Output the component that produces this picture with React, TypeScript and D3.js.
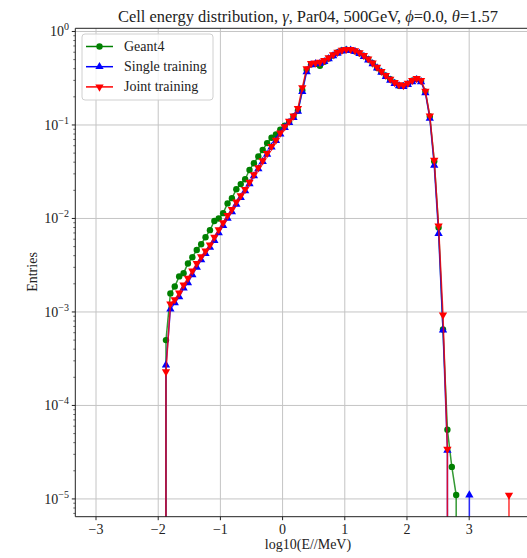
import React from "react";
import * as d3 from "d3";

const BIN_CENTERS = [
  -1.946, -1.875, -1.804, -1.734, -1.663, -1.592, -1.522, -1.451, -1.38, -1.309, -1.239,
  -1.168, -1.097, -1.027, -0.956, -0.885, -0.815, -0.744, -0.673, -0.602, -0.532,
  -0.461, -0.39, -0.32, -0.249, -0.178, -0.107, -0.037, 0.034, 0.105, 0.175,
  0.246, 0.317, 0.387, 0.458, 0.529, 0.6, 0.67, 0.741, 0.812, 0.882,
  0.953, 1.024, 1.094, 1.165, 1.236, 1.307, 1.377, 1.448, 1.519, 1.589,
  1.66, 1.731, 1.801, 1.872, 1.943, 2.014, 2.084, 2.155, 2.226, 2.296,
  2.367, 2.438, 2.508, 2.579, 2.65, 2.721, 2.791, 2.862, 2.933, 3.003,
  3.074, 3.145, 3.215, 3.286, 3.357, 3.428, 3.498, 3.569, 3.64, 3.711,
];

const GEANT4 = [
  0,
  5.0e-4, 1.58e-3, 1.87e-3, 2.4e-3, 2.6e-3, 3.3e-3, 3.85e-3, 4.6e-3, 5.3e-3, 6.3e-3,
  7.5e-3, 9.4e-3, 1.0e-2, 1.14e-2, 1.45e-2, 1.65e-2, 2.05e-2, 2.33e-2, 2.63e-2, 3.3e-2,
  3.9e-2, 4.6e-2, 5.4e-2, 6.4e-2, 7.3e-2, 7.9e-2, 8.9e-2, 9.8e-2, 0.108, 0.123,
  0.142, 0.235, 0.39, 0.445, 0.45, 0.43, 0.475, 0.515, 0.555, 0.595,
  0.625, 0.64, 0.635, 0.615, 0.585, 0.547, 0.505, 0.457, 0.41, 0.372,
  0.336, 0.308, 0.283, 0.263, 0.263, 0.275, 0.298, 0.31, 0.295, 0.227,
  0.123, 0.041, 8.0e-3, 6.5e-4, 5.5e-5, 2.2e-5, 1.1e-5,
  0, 0, 0, 0, 0, 0, 0, 0, 0, 0, 0, 0, 0,
];

const SINGLE = [
  0,
  2.7e-4, 1.07e-3, 1.25e-3, 1.45e-3, 1.8e-3, 2.05e-3, 2.5e-3, 3.0e-3, 3.6e-3, 4.2e-3,
  4.9e-3, 5.8e-3, 7.0e-3, 8.4e-3, 1.0e-2, 1.18e-2, 1.42e-2, 1.67e-2, 1.97e-2, 2.35e-2,
  2.85e-2, 3.4e-2, 4.05e-2, 4.85e-2, 5.8e-2, 6.8e-2, 8.0e-2, 9.4e-2, 0.106, 0.12,
  0.14, 0.227, 0.37, 0.44, 0.45, 0.455, 0.475, 0.51, 0.55, 0.585,
  0.615, 0.63, 0.63, 0.61, 0.58, 0.54, 0.495, 0.45, 0.405, 0.365,
  0.33, 0.3, 0.277, 0.262, 0.258, 0.27, 0.29, 0.305, 0.29, 0.22,
  0.118, 0.037, 6.9e-3, 6.4e-4, 3.3e-5,
  0, 0, 0, 0, 1.1e-5, 0, 0, 0, 0, 0, 0, 0, 0, 0, 0,
];

const JOINT = [
  0,
  2.3e-4, 1.22e-3, 1.35e-3, 1.6e-3, 1.95e-3, 2.3e-3, 2.75e-3, 3.3e-3, 3.9e-3, 4.5e-3,
  5.2e-3, 6.3e-3, 7.6e-3, 9.0e-3, 1.08e-2, 1.25e-2, 1.5e-2, 1.75e-2, 2.05e-2, 2.45e-2,
  2.95e-2, 3.5e-2, 4.15e-2, 4.95e-2, 5.9e-2, 6.9e-2, 8.2e-2, 9.6e-2, 0.11, 0.125,
  0.15, 0.25, 0.4, 0.455, 0.46, 0.47, 0.49, 0.525, 0.565, 0.6,
  0.63, 0.645, 0.645, 0.625, 0.595, 0.555, 0.51, 0.46, 0.415, 0.375,
  0.34, 0.31, 0.285, 0.27, 0.265, 0.28, 0.3, 0.315, 0.3, 0.23,
  0.125, 0.042, 8.3e-3, 9.3e-4, 3.4e-5,
  0, 0, 0, 0, 0, 0, 0, 0, 0, 0, 0, 0, 0, 1.1e-5, 0,
];

const SERIES_NAMES = ["Geant4", "Single training", "Joint training"];
const X_TICKS = [-3, -2, -1, 0, 1, 2, 3];
const Y_TICK_EXPONENTS = [0, -1, -2, -3, -4, -5];

const W = 527;
const H = 558;
const LEFT = 75.3;
const RIGHT = 540.7;
const TOP = 28.3;
const BOTTOM = 516.7;
const FONT = "'Liberation Serif', 'DejaVu Serif', serif";

const x = d3.scaleLinear().domain([-3.333, 4.15]).range([LEFT, RIGHT]);
const y = d3.scaleLog().domain([Math.pow(10, -5.19), Math.pow(10, 0.034)]).range([BOTTOM, TOP]);

const seriesDefs = [
  { name: SERIES_NAMES[0], values: GEANT4, color: "#008000", marker: "circle" },
  { name: SERIES_NAMES[1], values: SINGLE, color: "#0000ff", marker: "up" },
  { name: SERIES_NAMES[2], values: JOINT, color: "#ff0000", marker: "down" },
];

const triUp = d3.symbol(d3.symbolTriangle, 30)() as string;

function Marker({ kind, cx, cy, color }: { kind: string; cx: number; cy: number; color: string }) {
  if (kind === "circle") return <circle cx={cx} cy={cy} r={3.2} fill={color} />;
  const rot = kind === "down" ? 180 : 0;
  return <path d={triUp} transform={`translate(${cx},${cy}) rotate(${rot})`} fill={color} />;
}

function fmtMinus(v: number) {
  return v < 0 ? "\u2212" + Math.abs(v) : String(v);
}

export default function App() {
  const line = d3
    .line<[number, number]>()
    .x((d) => x(d[0]))
    .y((d) => (d[1] > 0 ? y(d[1]) : y(1e-300)));

  const minorTicks: number[] = [];
  for (let e = -6; e <= 0; e++) {
    for (let m = 2; m <= 9; m++) {
      const v = m * Math.pow(10, e);
      const py = y(v);
      if (py >= TOP && py <= BOTTOM) minorTicks.push(py);
    }
  }

  return (
    <svg width={W} height={H} style={{ position: "absolute", left: 0, top: 0 }} fontFamily={FONT}>
      <defs>
        <clipPath id="plotclip">
          <rect x={LEFT} y={TOP} width={RIGHT - LEFT} height={BOTTOM - TOP} />
        </clipPath>
      </defs>
      <rect x={0} y={0} width={W} height={H} fill="#fff" />
      {/* grid */}
      <g stroke="#c4c4c4" strokeWidth={1}>
        {X_TICKS.map((t) => (
          <line key={"gx" + t} x1={x(t)} x2={x(t)} y1={TOP} y2={BOTTOM} />
        ))}
        {Y_TICK_EXPONENTS.map((e) => (
          <line key={"gy" + e} x1={LEFT} x2={RIGHT} y1={y(Math.pow(10, e))} y2={y(Math.pow(10, e))} />
        ))}
      </g>
      {/* data */}
      <g clipPath="url(#plotclip)">
        {seriesDefs.map((s) => {
          const pts = BIN_CENTERS.map((c, i) => [c, s.values[i]] as [number, number]);
          return (
            <g key={s.name}>
              <path d={line(pts) || ""} fill="none" stroke={s.color} strokeWidth={1.5} strokeOpacity={0.8} />
              {pts
                .filter((p) => p[1] > 0)
                .map((p, i) => (
                  <Marker key={i} kind={s.marker} cx={x(p[0])} cy={y(p[1])} color={s.color} />
                ))}
            </g>
          );
        })}
      </g>
      {/* spines */}
      <g stroke="#222" strokeWidth={1} fill="none">
        <line x1={LEFT} x2={LEFT} y1={TOP} y2={BOTTOM} />
        <line x1={LEFT} x2={RIGHT} y1={BOTTOM} y2={BOTTOM} />
        <line x1={LEFT} x2={RIGHT} y1={TOP} y2={TOP} />
        <line x1={RIGHT} x2={RIGHT} y1={TOP} y2={BOTTOM} />
      </g>
      {/* x ticks */}
      <g>
        {X_TICKS.map((t) => (
          <g key={"xt" + t}>
            <line x1={x(t)} x2={x(t)} y1={BOTTOM} y2={BOTTOM + 3.5} stroke="#222" />
            <text x={x(t)} y={BOTTOM + 17} textAnchor="middle" fontSize={14} fill="#222">
              {fmtMinus(t)}
            </text>
          </g>
        ))}
      </g>
      {/* y ticks */}
      <g>
        {Y_TICK_EXPONENTS.map((e) => {
          const py = y(Math.pow(10, e));
          return (
            <g key={"yt" + e}>
              <line x1={LEFT - 3.5} x2={LEFT} y1={py} y2={py} stroke="#222" />
              <text x={69} y={py + 5} textAnchor="end" fontSize={14} fill="#222">
                <tspan>10</tspan>
                <tspan dy={-6} fontSize={10}>
                  {fmtMinus(e)}
                </tspan>
              </text>
            </g>
          );
        })}
        {minorTicks.map((py, i) => (
          <line key={"mt" + i} x1={LEFT - 2} x2={LEFT} y1={py} y2={py} stroke="#222" strokeWidth={0.7} />
        ))}
      </g>
      {/* labels */}
      <text x={(LEFT + RIGHT) / 2} y={549} textAnchor="middle" fontSize={14} fill="#222">
        log10(E//MeV)
      </text>
      <text transform={`translate(37,272) rotate(-90)`} textAnchor="middle" fontSize={14} fill="#222">
        Entries
      </text>
      <text
        x={(LEFT + RIGHT) / 2}
        y={21.5}
        textAnchor="middle"
        fontSize={16.5}
        fill="#222"
        textLength={380}
        lengthAdjust="spacingAndGlyphs"
      >
        Cell energy distribution, <tspan fontStyle="italic">γ</tspan>, Par04, 500GeV,{" "}
        <tspan fontStyle="italic">ϕ</tspan>=0.0, <tspan fontStyle="italic">θ</tspan>=1.57
      </text>
      {/* legend */}
      <g>
        <rect x={82} y={34} width={131} height={66} rx={3} fill="#fff" fillOpacity={0.8} stroke="#d0d0d0" />
        {seriesDefs.map((s, i) => {
          const ly = 46.5 + i * 20.2;
          return (
            <g key={"lg" + s.name}>
              <line x1={86} x2={113} y1={ly} y2={ly} stroke={s.color} strokeWidth={1.5} />
              <Marker kind={s.marker} cx={99.5} cy={ly} color={s.color} />
              <text x={124} y={ly + 4.5} fontSize={14} fill="#222">
                {s.name}
              </text>
            </g>
          );
        })}
      </g>
    </svg>
  );
}
